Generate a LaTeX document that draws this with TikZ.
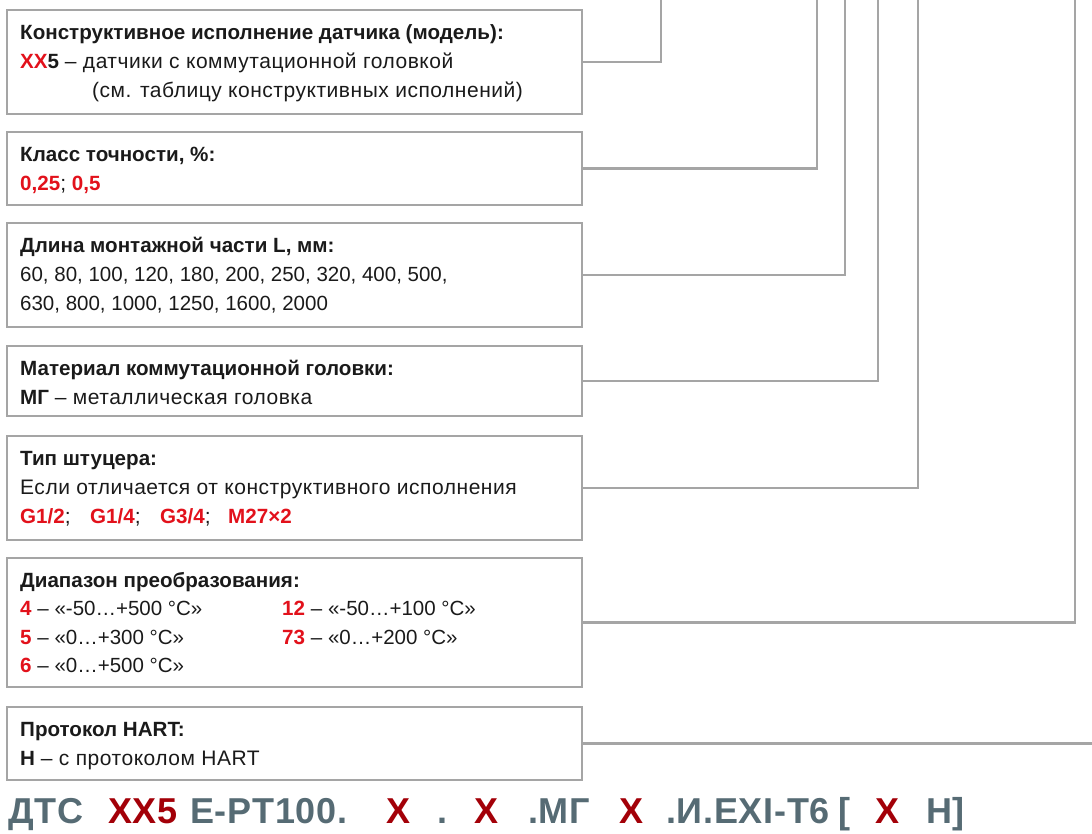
\documentclass[tikz,border=0pt]{standalone}
\usepackage{fontspec}
\setmainfont{Liberation Sans}
\newfontfamily\widefont{Liberation Sans}[LetterSpace=2.5]
\newfontfamily\codefont{Liberation Sans}[LetterSpace=2]
\newcommand{\myhead}[1]{{\fontsize{20.6}{24}\selectfont\bfseries #1}}
\newcommand{\mynum}[1]{{\fontsize{20.5}{24}\selectfont #1}}
\definecolor{bordergray}{HTML}{A5A5A5}
\definecolor{txt}{HTML}{1A1A1A}
\definecolor{hl}{HTML}{E2111B}
\definecolor{codegray}{HTML}{566B74}
\definecolor{codered}{HTML}{A30008}
\begin{document}
\begin{tikzpicture}[x=1pt,y=-1pt,
  box/.style={draw=bordergray, line width=2.4pt, rectangle, anchor=north west, inner sep=0pt, outer sep=0pt, minimum width=575pt},
  conn/.style={draw=bordergray, line width=2.4pt},
  lbl/.style={anchor=base west, inner sep=0pt, font=\fontsize{21}{24}\selectfont, text=txt},
  code/.style={anchor=base west, inner sep=0pt, font=\codefont\fontsize{36}{40}\selectfont\bfseries, text=codegray},
  codex/.style={code, text=codered}]
\useasboundingbox (0,0) rectangle (1092,833);
% boxes
\node[box, minimum height=104pt] (b1) at (7,10) {};
\node[box, minimum height=73pt]  (b2) at (7,132) {};
\node[box, minimum height=104pt] (b3) at (7,223) {};
\node[box, minimum height=70pt]  (b4) at (7,346) {};
\node[box, minimum height=104pt] (b5) at (7,436) {};
\node[box, minimum height=129pt] (b6) at (7,558) {};
\node[box, minimum height=73pt]  (b7) at (7,707) {};
% connector ends
\coordinate (e1) at (661,0);
\coordinate (e2) at (817,0);
\coordinate (e3) at (845,0);
\coordinate (e4) at (878,0);
\coordinate (e5) at (918,0);
\coordinate (e6) at (1075,0);
\draw[conn] (b1.east) -| (e1);
\draw[conn] (b2.east) -| (e2);
\draw[conn] (b3.east) -| (e3);
\draw[conn] (b4.east) -| (e4);
\draw[conn] (b5.east) -| (e5);
\draw[conn] (b6.east) -| (e6);
\coordinate (e7) at (1092,0 |- b7.east);
\draw[conn] (b7.east) -- (e7);
% box 1
\node[lbl] (t1a) at (20,39) {\myhead{Конструктивное исполнение датчика (модель):}};
\node[lbl] (t1b) at (20,68) {\myhead{\textcolor{hl}{ХХ}5} {\widefont – датчики с коммутационной головкой}};
\node[lbl] (t1c) at (92,97) {\widefont (см. таблицу конструктивных исполнений)};
% box 2
\node[lbl] (t2a) at (20,161) {\myhead{Класс точности, \%:}};
\node[lbl] (t2b) at (20,190) {\myhead{\textcolor{hl}{0,25}}; \myhead{\textcolor{hl}{0,5}}};
% box 3
\node[lbl] (t3a) at (20,252) {\myhead{Длина монтажной части L, мм:}};
\node[lbl] (t3b) at (20,281) {\mynum{60, 80, 100, 120, 180, 200, 250, 320, 400, 500,}};
\node[lbl] (t3c) at (20,310) {\mynum{630, 800, 1000, 1250, 1600, 2000}};
% box 4
\node[lbl] (t4a) at (20,375) {\myhead{Материал коммутационной головки:}};
\node[lbl] (t4b) at (20,404) {\myhead{МГ} {\widefont – металлическая головка}};
% box 5
\node[lbl] (t5a) at (20,465) {\myhead{Тип штуцера:}};
\node[lbl] (t5b) at (20,494) {\widefont Если отличается от конструктивного исполнения};
\node[lbl] (t5c) at (20,523) {\myhead{\textcolor{hl}{G1/2}};};
\node[lbl] (t5d) at (90,523) {\myhead{\textcolor{hl}{G1/4}};};
\node[lbl] (t5e) at (160,523) {\myhead{\textcolor{hl}{G3/4}};};
\node[lbl] (t5f) at (228,523) {\myhead{\textcolor{hl}{M27×2}}};
% box 6
\node[lbl] (t6a) at (20,587) {\myhead{Диапазон преобразования:}};
\node[lbl] (t6b) at (20,615.5) {\myhead{\textcolor{hl}{4}} \mynum{– «-50…+500 °C»}};
\node[lbl] (t6c) at (20,644) {\myhead{\textcolor{hl}{5}} \mynum{– «0…+300 °C»}};
\node[lbl] (t6d) at (20,672.5) {\myhead{\textcolor{hl}{6}} \mynum{– «0…+500 °C»}};
\node[lbl] (t6e) at (282,615.5) {\myhead{\textcolor{hl}{12}} \mynum{– «-50…+100 °C»}};
\node[lbl] (t6f) at (282,644) {\myhead{\textcolor{hl}{73}} \mynum{– «0…+200 °C»}};
% box 7
\node[lbl] (t7a) at (20,736) {\myhead{Протокол HART:}};
\node[lbl] (t7b) at (20,765) {\myhead{H} {\widefont – с протоколом HART}};
% code line
\node[code]  (c1)  at (8,823)   {ДТС};
\node[codex] (c2)  at (108,823) {ХХ5};
\node[code]  (c3)  at (190,823) {E-PT100.};
\node[codex] (c4)  at (386,823) {Х};
\node[code]  (c5)  at (437,823) {.};
\node[codex] (c6)  at (474,823) {Х};
\node[code]  (c7)  at (528,823) {.МГ};
\node[codex] (c8)  at (619,823) {Х};
\node[code]  (c9)  at (666,823) {.И.EXI-T6};
\node[code]  (c10) at (838,823) {[};
\node[codex] (c11) at (875,823) {Х};
\node[code]  (c12) at (926,823) {Н]};
\end{tikzpicture}
\end{document}
